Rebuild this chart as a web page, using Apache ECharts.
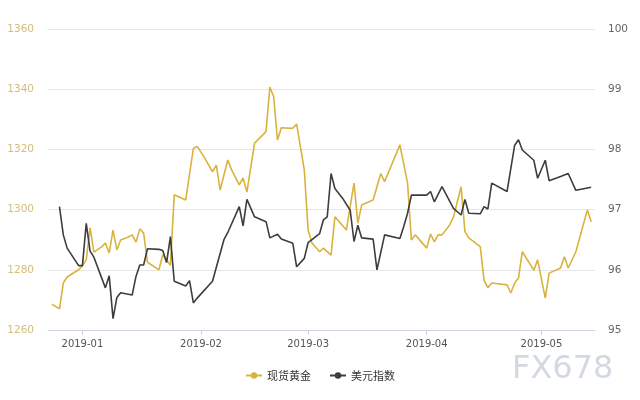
<!DOCTYPE html>
<html>
<head>
<meta charset="utf-8">
<script src="https://cdn.jsdelivr.net/npm/echarts@6/dist/echarts.min.js"></script>
<style>html,body{margin:0;padding:0;background:#fff}#c{width:640px;height:400px}</style>
</head>
<body>
<div id="c"></div>
<script>
const seriesNames = ['现货黄金', '美元指数'];
const goldDates = ['2018-12-24','2018-12-26','2018-12-27','2018-12-28','2018-12-31','2019-01-01','2019-01-02','2019-01-03','2019-01-04','2019-01-06','2019-01-07','2019-01-08','2019-01-09','2019-01-10','2019-01-11','2019-01-13','2019-01-14','2019-01-15','2019-01-16','2019-01-17','2019-01-18','2019-01-21','2019-01-22','2019-01-24','2019-01-25','2019-01-28','2019-01-30','2019-01-31','2019-02-02','2019-02-04','2019-02-05','2019-02-06','2019-02-08','2019-02-09','2019-02-11','2019-02-12','2019-02-13','2019-02-15','2019-02-18','2019-02-19','2019-02-20','2019-02-21','2019-02-22','2019-02-25','2019-02-26','2019-02-28','2019-03-01','2019-03-02','2019-03-04','2019-03-05','2019-03-07','2019-03-08','2019-03-11','2019-03-13','2019-03-14','2019-03-15','2019-03-18','2019-03-20','2019-03-21','2019-03-25','2019-03-27','2019-03-28','2019-03-29','2019-04-01','2019-04-02','2019-04-03','2019-04-04','2019-04-05','2019-04-07','2019-04-08','2019-04-10','2019-04-11','2019-04-12','2019-04-15','2019-04-16','2019-04-17','2019-04-18','2019-04-22','2019-04-23','2019-04-24','2019-04-25','2019-04-26','2019-04-29','2019-04-30','2019-05-02','2019-05-03','2019-05-06','2019-05-07','2019-05-08','2019-05-10','2019-05-13','2019-05-14'];
const goldValues = [1268.6,1267.0,1275.6,1277.6,1280.0,1281.3,1283.3,1293.9,1285.9,1287.6,1288.9,1285.6,1293.2,1286.6,1289.9,1290.9,1291.6,1289.2,1293.6,1292.2,1282.5,1280.0,1285.0,1281.5,1304.9,1303.2,1320.3,1321.0,1317.1,1312.5,1314.8,1306.5,1316.5,1313.2,1308.2,1310.5,1305.8,1322.1,1325.9,1340.7,1337.5,1323.1,1327.2,1327.0,1328.4,1313.2,1293.2,1288.9,1286.0,1287.2,1284.9,1297.6,1293.2,1308.8,1295.5,1301.5,1303.2,1312.0,1309.3,1321.5,1308.8,1289.9,1291.6,1287.2,1291.9,1289.3,1291.6,1291.6,1294.9,1297.5,1307.6,1292.7,1290.6,1287.7,1276.6,1274.0,1275.6,1275.0,1272.3,1275.6,1277.3,1286.0,1279.9,1283.3,1270.6,1278.9,1280.6,1284.3,1280.6,1286.0,1299.9,1296.0];
const usdDates = ['2018-12-26','2018-12-27','2018-12-28','2018-12-31','2019-01-01','2019-01-02','2019-01-03','2019-01-04','2019-01-07','2019-01-08','2019-01-09','2019-01-10','2019-01-11','2019-01-14','2019-01-15','2019-01-16','2019-01-17','2019-01-18','2019-01-21','2019-01-22','2019-01-23','2019-01-24','2019-01-25','2019-01-28','2019-01-29','2019-01-30','2019-01-31','2019-02-04','2019-02-06','2019-02-07','2019-02-08','2019-02-11','2019-02-12','2019-02-13','2019-02-15','2019-02-18','2019-02-19','2019-02-21','2019-02-22','2019-02-25','2019-02-26','2019-02-28','2019-03-01','2019-03-04','2019-03-05','2019-03-06','2019-03-07','2019-03-08','2019-03-10','2019-03-12','2019-03-13','2019-03-14','2019-03-15','2019-03-18','2019-03-19','2019-03-21','2019-03-25','2019-03-26','2019-03-27','2019-03-28','2019-03-29','2019-04-01','2019-04-02','2019-04-03','2019-04-05','2019-04-08','2019-04-10','2019-04-11','2019-04-12','2019-04-15','2019-04-16','2019-04-17','2019-04-18','2019-04-22','2019-04-24','2019-04-25','2019-04-26','2019-04-29','2019-04-30','2019-05-02','2019-05-03','2019-05-06','2019-05-08','2019-05-10','2019-05-14'];
const usdValues = [97.05,96.58,96.36,96.07,96.07,96.77,96.31,96.21,95.70,95.90,95.19,95.54,95.62,95.58,95.89,96.08,96.08,96.35,96.34,96.32,96.12,96.55,95.81,95.73,95.82,95.45,95.53,95.81,96.27,96.50,96.62,97.05,96.73,97.17,96.88,96.80,96.53,96.59,96.51,96.44,96.05,96.19,96.45,96.60,96.83,96.88,97.60,97.35,97.19,96.99,96.47,96.74,96.53,96.51,96.00,96.58,96.52,96.72,96.94,97.24,97.24,97.24,97.30,97.13,97.38,97.02,96.91,97.17,96.94,96.93,97.05,97.01,97.44,97.30,98.07,98.16,97.99,97.82,97.52,97.82,97.48,97.55,97.60,97.32,97.37];
const goldTicks = [1260, 1360, 20];
const usdTicks = [95, 100, 1];

const chart = echarts.init(document.getElementById('c'));
const pad = n => (n < 10 ? '0' : '') + n;
const day = 86400000;
chart.setOption({
  animation: false,
  color: ['#d9b33c', '#3d3d3d'],
  grid: { left: 48, right: 45, top: 29, bottom: 70 },
  legend: {
    bottom: 14, left: 'center', itemWidth: 16, itemHeight: 8, itemGap: 18,
    textStyle: { color: '#333', fontSize: 11, fontFamily: 'Noto Sans CJK SC' },
    data: seriesNames
  },
  xAxis: {
    type: 'time',
    min: '2018-12-23', max: '2019-05-15',
    minInterval: 28 * day, maxInterval: 31 * day,
    axisLine: { lineStyle: { color: '#ccd3dc' } },
    axisTick: { show: true, length: 5, lineStyle: { color: '#ccd3dc' } },
    splitLine: { show: false },
    axisLabel: {
      color: '#555', fontSize: 10, margin: 9, fontFamily: 'DejaVu Sans',
      formatter: v => { const d = new Date(v); return d.getFullYear() + '-' + pad(d.getMonth() + 1); }
    }
  },
  yAxis: [
    {
      type: 'value', min: goldTicks[0], max: goldTicks[1], interval: goldTicks[2],
      axisLine: { show: false }, axisTick: { show: false },
      splitLine: { lineStyle: { color: '#e6e6e6' } },
      axisLabel: { color: '#d3bd7a', fontSize: 10.5, margin: 14, fontFamily: 'DejaVu Sans', formatter: v => String(v) }
    },
    {
      type: 'value', min: usdTicks[0], max: usdTicks[1], interval: usdTicks[2],
      axisLine: { show: false }, axisTick: { show: false },
      splitLine: { show: false },
      axisLabel: { color: '#666', fontSize: 10.5, margin: 13, fontFamily: 'DejaVu Sans', formatter: v => String(v) }
    }
  ],
  series: [
    {
      name: seriesNames[0], type: 'line', yAxisIndex: 0, showSymbol: false, symbol: 'circle', symbolSize: 6,
      lineStyle: { width: 1.6 },
      data: goldDates.map((d, i) => [d, goldValues[i]])
    },
    {
      name: seriesNames[1], type: 'line', yAxisIndex: 1, showSymbol: false, symbol: 'circle', symbolSize: 6,
      lineStyle: { width: 1.6 },
      data: usdDates.map((d, i) => [d, usdValues[i]])
    }
  ],
  graphic: [{
    type: 'text', left: 512, top: 354,
    style: { text: 'FX678', fontSize: 32, fontFamily: 'DejaVu Sans', fill: '#d3d9e2' }
  }]
});
</script>
</body>
</html>
